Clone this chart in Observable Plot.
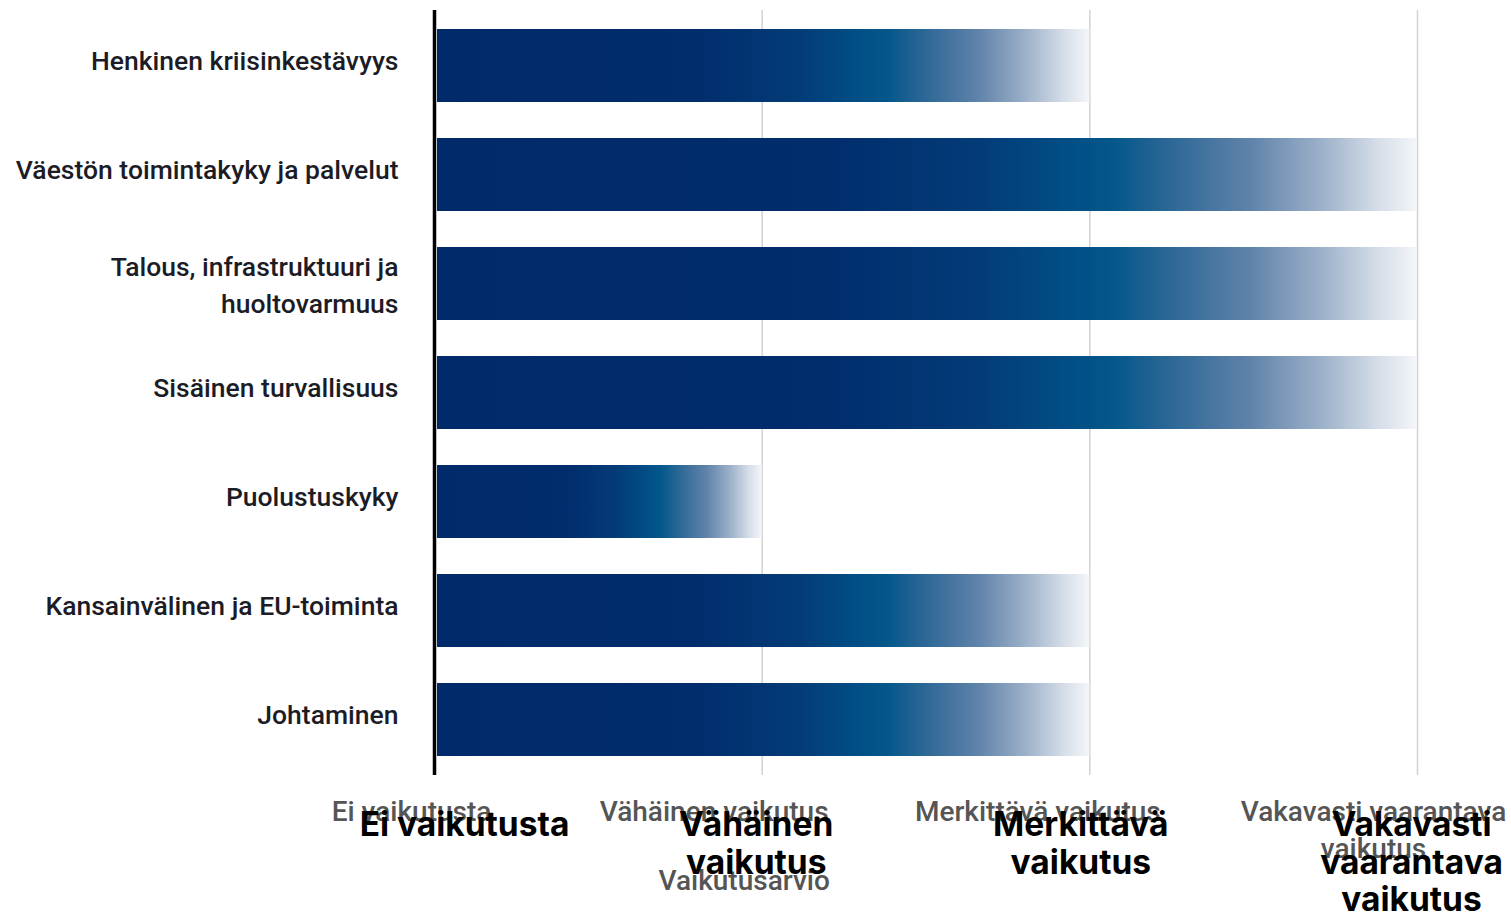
<!DOCTYPE html>
<html>
<head>
<meta charset="utf-8">
<script src="https://cdn.jsdelivr.net/npm/d3@7"></script>
<script src="https://cdn.jsdelivr.net/npm/@observablehq/plot@0.6"></script>
<style>
  html, body { margin: 0; padding: 0; background: #fff; }
  #chart svg { display: block; }
</style>
</head>
<body>
<div id="chart"></div>
<script>
// --- data ---
const categories = [
  "Henkinen kriisinkestävyys",
  "Väestön toimintakyky ja palvelut",
  "Talous, infrastruktuuri ja\nhuoltovarmuus",
  "Sisäinen turvallisuus",
  "Puolustuskyky",
  "Kansainvälinen ja EU-toiminta",
  "Johtaminen"
];
const impactValues = [2, 3, 3, 3, 1, 2, 2];
const levelTicks = [0, 1, 2, 3];
const levelLabelsOriginal = ["Ei vaikutusta", "Vähäinen vaikutus", "Merkittävä vaikutus", "Vakavasti vaarantava\nvaikutus"];
const levelLabelsOverlay = ["Ei vaikutusta", "Vähäinen\nvaikutus", "Merkittävä\nvaikutus", "Vakavasti\nvaarantava\nvaikutus"];
const axisTitle = "Vaikutusarvio";

const bars = categories.map((c, i) => ({category: c, value: impactValues[i]}));

// --- styles ---
const labelFont = "Roboto, 'Noto Sans', sans-serif";
const gradientStops = [
  [0, "#012a6a"], [0.4, "#012d6d"], [0.55, "#033b77"], [0.64, "#014d85"],
  [0.69, "#03578b"], [0.75, "#2e6896"], [0.83, "#6083aa"], [0.9, "#9aafc8"],
  [0.96, "#d5dde8"], [1, "#f4f6f9"]
];
const grayDx = [-23, -48, -52, -44];
const overlayDx = [30, -6, -9, -6];

const defsMark = () => {
  const defs = d3.create("svg:defs");
  const g = defs.append("linearGradient").attr("id", "barGrad")
    .attr("x1", 0).attr("x2", 1).attr("y1", 0).attr("y2", 0);
  gradientStops.forEach(([o, c]) => g.append("stop").attr("offset", o).attr("stop-color", c));
  return defs.node();
};

const grayMarks = levelTicks.map((t, i) => Plot.text([levelLabelsOriginal[i]], {
  x: () => t, frameAnchor: "bottom", lineAnchor: "top", dy: 20, dx: grayDx[i],
  text: d => d, fill: "#555", fontSize: 28, fontWeight: 500, fontFamily: labelFont, lineHeight: 1.3, textAnchor: "middle"
}));
const overlayMarks = levelTicks.map((t, i) => Plot.text([levelLabelsOverlay[i]], {
  x: () => t, frameAnchor: "bottom", lineAnchor: "top", dy: 34, dx: overlayDx[i],
  text: d => d, fill: "#000", fontSize: 33.5, fontWeight: 700, fontFamily: "Inter, sans-serif",
  lineHeight: 1.12, textAnchor: "middle"
}));

const singleLine = categories.filter(c => !c.includes("\n"));
const multiLine = categories.filter(c => c.includes("\n"));
const yAxisStyle = {tickSize: 0, tickPadding: 36, fontSize: 26.5, fontWeight: 500, fontFamily: labelFont, fill: "#1c1c26", lineHeight: 1.4, label: null};

const chart = Plot.plot({
  width: 1511,
  height: 914,
  marginTop: 10,
  marginBottom: 139,
  marginLeft: 434,
  marginRight: 94,
  style: {background: "#fff", overflow: "visible"},
  x: {domain: [0, 3], axis: null},
  y: {domain: categories, paddingInner: 0.33, paddingOuter: 0.165, label: null, axis: null},
  marks: [
    defsMark,
    Plot.ruleX([1, 2, 3], {stroke: "#d2d2d2", strokeWidth: 1.5}),
    Plot.barX(bars, {x: "value", y: "category", fill: "url(#barGrad)", insetLeft: 3}),
    Plot.ruleX([0], {stroke: "#000", strokeWidth: 3.5}),
    Plot.axisY(singleLine, {...yAxisStyle, dy: -8}),
    Plot.axisY(multiLine, {...yAxisStyle, dy: -1}),
    ...grayMarks,
    Plot.text([axisTitle], {x: () => 1, frameAnchor: "bottom", lineAnchor: "top", dy: 95, dx: -18,
      text: d => d, fill: "#555", fontSize: 28, fontWeight: 500, fontFamily: labelFont, textAnchor: "middle"}),
    ...overlayMarks
  ]
});
document.getElementById("chart").append(chart);
</script>
</body>
</html>
